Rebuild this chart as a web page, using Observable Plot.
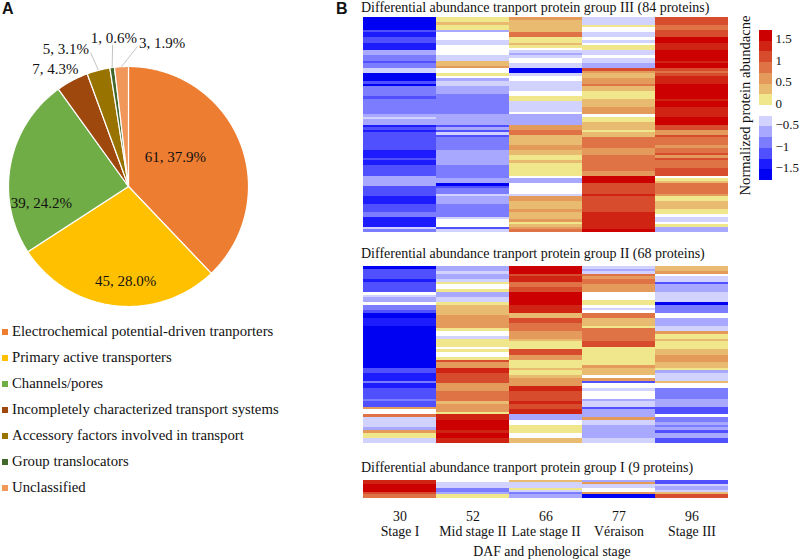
<!DOCTYPE html>
<html>
<head>
<meta charset="utf-8">
<script src="https://cdn.jsdelivr.net/npm/d3@7"></script>
<script src="https://cdn.jsdelivr.net/npm/@observablehq/plot@0.6"></script>
<style>
  html, body { margin: 0; padding: 0; background: #fff; }
  #chart { position: relative; width: 800px; height: 560px; overflow: hidden; font-family: "Liberation Serif", serif; color: #111; }
  #chart svg { position: absolute; background: transparent; }
  .txt { position: absolute; white-space: nowrap; }
  .panel { font-family: "Liberation Sans", sans-serif; font-weight: bold; font-size: 16px; line-height: 18.4px; }
  .title { font-size: 14px; line-height: 16px; }
  .key { position: absolute; left: 0; top: 318px; font-size: 14.75px; line-height: 26px; white-space: nowrap; }
  .key i { display: inline-block; width: 6px; height: 6px; margin: 0 4px 2px 2px; vertical-align: middle; }
</style>
</head>
<body>
<div id="chart"></div>
<script>
// Panel A
const classes = ["Electrochemical potential-driven tranporters", "Primary active transporters", "Channels/pores", "Incompletely characterized transport systems", "Accessory factors involved in transport", "Group translocators", "Unclassified"];
const counts = [61, 45, 39, 7, 5, 1, 3];
const percents = ["37.9%", "28.0%", "24.2%", "4.3%", "3.1%", "0.6%", "1.9%"];
const classColors = ["#ED7D31", "#FFC000", "#70AD47", "#9E480E", "#997300", "#43682B", "#F1975A"];
const labelAngle = [58.3, 181.8, 259, 328, 335.5, 354.4, 13.2];
const labelRadius = [0.46, 0.79, 0.74, 1.149, 1.257, 1.239, 1.224];
const leaderClasses = ["Accessory factors involved in transport", "Group translocators", "Unclassified"];
const leaderAngle = [344.2, 353.6, 3.7];
const leaderRadius = [1.16, 1.19, 1.17];

// Panel B: per stage, run-length rows top to bottom (level code + number of rows)
const daf = [30, 52, 66, 77, 96];
const stages = ["Stage I", "Mid stage II", "Late stage II", "Véraison", "Stage III"];
const groupIII = [
  "a5 c1 b2 c2 b3 e2 d2 c1 d2 f2 a3 c1 a1 d4 c1 d6 e1 f1 e2 b1 c1 b1 c7 b3 c1 b2 c4 e4 c4 b3 c3 d2 b4 f1 d1",
  "02 11 02 e1 w3 f2 w4 f2 12 21 w2 01 w1 e1 f2 e3 d8 e4 c1 e1 c1 f1 c1 d5 e6 d5 e2 a1 c1 d2 f1 e3 d5 f1 w3 c1 f1",
  "21 15 32 02 11 01 w1 f1 e1 f1 w2 f2 a2 f1 w2 f4 w2 02 f4 w1 e4 22 32 14 22 12 02 11 05 w1 e2 w4 f1 22 13 21 13 21 01 11 21 31",
  "f3 01 w2 f2 w1 f1 w1 02 f2 w1 f2 e2 41 21 12 22 31 12 03 13 23 w1 02 13 01 12 34 23 36 22 63 44 51 46 57 61",
  "43 32 43 62 53 64 51 62 41 31 41 53 66 51 62 54 63 42 22 41 33 21 32 41 21 41 33 43 w1 01 11 34 21 02 13 02 w1 f2 w1 01 e2"
];
const groupII = [
  "a1 c4 b1 c4 w1 f1 e2 w1 d2 c1 a2 b3 a16 c2 b3 d1 b2 c4 d1 c2 21 w2 31 f4 e1 21 02 f2",
  "e2 f1 e2 f1 01 w2 01 e2 f2 01 14 25 01 w2 f1 03 w1 01 w2 01 41 22 52 44 23 34 11 23 01 52 64 51 62 52",
  "63 41 52 32 42 65 53 12 42 33 23 11 03 42 22 03 11 02 11 23 52 44 51 42 52 e2 w2 03 w2 12",
  "f1 e1 f1 31 21 32 23 w3 02 w1 f1 w1 32 13 01 35 42 07 21 13 w1 21 c1 w2 f1 w3 e1 f2 c1 e3 21 f2 e5 f2",
  "12 21 w1 f2 c1 e3 f4 a1 d3 w2 e3 f2 21 02 11 03 12 23 12 01 e1 f3 11 w2 d4 e3 c3 w1 d2 e1 d1 e1 c1 e2 c2"
];
const groupI = [
  "52 64 41 32",
  "w1 f3 d2 e1 02",
  "11 f3 01 f1 d1 e2",
  "e1 21 f2 w2 21 a2",
  "c2 f1 e2 f1 11 42"
];
const levelCodes = ["a", "b", "c", "d", "e", "f", "w", "0", "1", "2", "3", "4", "5", "6"];
const levelValues = [-1.6, -1.4, -1.1, -0.9, -0.6, -0.4, -0.1, 0.1, 0.4, 0.6, 0.9, 1.1, 1.4, 1.6];
const thresholds = [-1.5, -1.25, -1, -0.75, -0.5, -0.25, 0, 0.25, 0.5, 0.75, 1, 1.25, 1.5];
const levelColors = ["#0000f2", "#1c1cff", "#5050ff", "#7c7cff", "#a8a8ff", "#d2d2ff", "#ffffff", "#f0e68c", "#e8bb70", "#e39a5a", "#df7345", "#d64c2c", "#cf2414", "#cc0000"];
const scaleEdges = [-1.75, ...thresholds, 1.75];
const scaleTicks = [-1.5, -1, -0.5, 0, 0.5, 1, 1.5];

const chart = document.getElementById("chart");
function place(el, left, top) { el.style.left = left + "px"; el.style.top = top + "px"; chart.appendChild(el); return el; }
function label(text, cls, left, top) { const d = document.createElement("div"); d.className = "txt " + cls; d.textContent = text; return place(d, left, top); }
const baseStyle = { fontFamily: "Liberation Serif, serif", fontSize: "13.8px", color: "#111", background: "transparent" };

label("A", "panel", 2, 0);
label("B", "panel", 336, 0);

// ---- Pie ----
const total = d3.sum(counts);
const rad = a => a * Math.PI / 180;
const polar = (a, r) => ({ x: r * Math.sin(rad(a)), y: r * Math.cos(rad(a)) });
const slicePoints = [];
let cum = 0;
classes.forEach((name, i) => {
  const a0 = cum / total * 360, a1 = (cum + counts[i]) / total * 360;
  cum += counts[i];
  slicePoints.push({ name, ...polar(0, 0) });
  const steps = Math.max(2, Math.ceil(a1 - a0));
  for (let s = 0; s <= steps; ++s) slicePoints.push({ name, ...polar(a0 + (a1 - a0) * s / steps, 1) });
  slicePoints.push({ name, ...polar(0, 0) });
});
const midAngle = name => {
  const i = classes.indexOf(name);
  return (d3.sum(counts.slice(0, i)) + counts[i] / 2) / total * 360;
};
const pieLabels = classes.map((name, i) => ({ text: `${counts[i]}, ${percents[i]}`, ...polar(labelAngle[i], labelRadius[i]) }));
const leaders = leaderClasses.map((name, i) => {
  const p = polar(midAngle(name), 1), q = polar(leaderAngle[i], leaderRadius[i]);
  return { x1: p.x, y1: p.y, x2: q.x, y2: q.y };
});
place(Plot.plot({
  width: 256, height: 320,
  marginLeft: 8, marginRight: 8, marginTop: 66, marginBottom: 14,
  x: { domain: [-1, 1], axis: null },
  y: { domain: [-1, 1], axis: null },
  color: { domain: classes, range: classColors },
  style: { ...baseStyle, fontSize: "15px" },
  marks: [
    Plot.line(slicePoints, { x: "x", y: "y", z: "name", fill: "name", stroke: "#fff", strokeWidth: 1.2, strokeLinejoin: "round" }),
    Plot.link(leaders, { x1: "x1", y1: "y1", x2: "x2", y2: "y2", stroke: "#c4c4c4", strokeWidth: 1 }),
    Plot.text(pieLabels, { x: "x", y: "y", text: "text", fill: "#111", lineAnchor: "middle" })
  ]
}), 0, 0);

// ---- Legend for the pie ----
const key = document.createElement("div");
key.className = "key";
classes.forEach((name, i) => {
  const row = document.createElement("div");
  const sw = document.createElement("i");
  sw.style.background = classColors[i];
  row.appendChild(sw);
  row.appendChild(document.createTextNode(name));
  key.appendChild(row);
});
chart.appendChild(key);

// ---- Heatmaps ----
const colorScale = { type: "threshold", domain: thresholds, range: levelColors };
function decode(columns) {
  const out = [];
  columns.forEach((col, c) => {
    let row = 0;
    col.split(" ").forEach(tok => {
      const v = levelValues[levelCodes.indexOf(tok[0])], n = +tok.slice(1);
      for (let k = 0; k < n; ++k) out.push({ stage: stages[c], row: row++, value: v });
    });
  });
  return out;
}
function heat(columns, nRows, extra = {}) {
  const { marginBottom = 0, height, marks = [] } = extra;
  return Plot.plot({
    width: 380, height,
    marginLeft: 6, marginRight: 5, marginTop: 0, marginBottom,
    x: { domain: stages, padding: 0, axis: null },
    y: { domain: d3.range(nRows), padding: 0, axis: null },
    color: colorScale,
    style: baseStyle,
    marks: [
      Plot.cell(decode(columns), { x: "stage", y: "row", fill: "value", shapeRendering: "crispEdges" }),
      ...marks
    ]
  });
}
label("Differential abundance tranport protein group III (84 proteins)", "title", 361, 0);
place(heat(groupIII, 84, { height: 215 }), 355, 17);
label("Differential abundance tranport protein group II (68 proteins)", "title", 361, 246);
place(heat(groupII, 68, { height: 177 }), 355, 266);
label("Differential abundance tranport protein group I (9 proteins)", "title", 361, 460);
place(heat(groupI, 9, {
  height: 83, marginBottom: 60,
  marks: [
    Plot.axisX({
      anchor: "bottom", label: null, tickSize: 0, tickPadding: 10, lineHeight: 1.08,
      tickFormat: d => `${daf[stages.indexOf(d)]}\n${d}`, fill: "#111", fontVariant: "normal"
    }),
    Plot.text(["DAF and phenological stage"], { frameAnchor: "bottom", text: d => d, dx: 6, dy: 51.5, lineAnchor: "middle", fill: "#111" })
  ]
}), 355, 477);

// ---- Colour scale ----
const bins = d3.pairs(scaleEdges).map(([a, b]) => ({ a, b, mid: (a + b) / 2 }));
place(Plot.plot({
  width: 70, height: 200,
  marginLeft: 29, marginRight: 28, marginTop: 30, marginBottom: 20,
  x: { domain: [0, 1], axis: null },
  y: { domain: [-1.75, 1.75], axis: null },
  color: colorScale,
  style: { ...baseStyle, fontSize: "13px" },
  marks: [
    Plot.rect(bins, { x1: 0, x2: 1, y1: "a", y2: "b", fill: "mid", shapeRendering: "crispEdges" }),
    Plot.axisY({
      anchor: "right", ticks: scaleTicks, tickSize: 0, tickPadding: 3, label: null, dy: -2,
      tickFormat: d => d < 0 ? "\u2212" + (-d) : String(d), fill: "#111", fontVariant: "normal"
    }),
    Plot.text(["Normalized protein abundacne"], { frameAnchor: "left", text: d => d, rotate: -90, dx: -14, textAnchor: "middle", fontSize: 14.6, fill: "#111" })
  ]
}), 730, 0);
</script>
</body>
</html>
